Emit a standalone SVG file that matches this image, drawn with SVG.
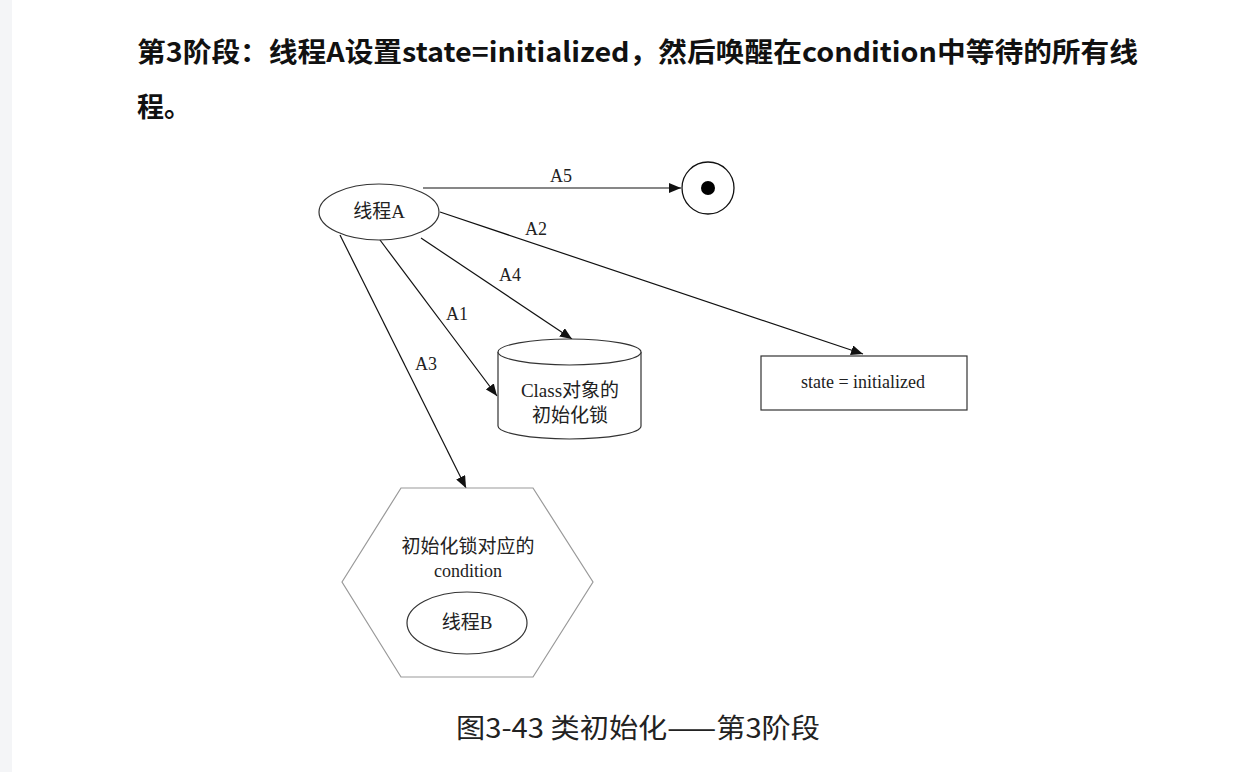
<svg xmlns="http://www.w3.org/2000/svg" width="1238" height="772" viewBox="0 0 1238 772">
<style>
.title{font-family:"Noto Sans CJK SC","Noto Sans",sans-serif;font-weight:bold;font-size:27px;fill:#111}
.cap{font-family:"Noto Sans CJK SC","Noto Sans",sans-serif;font-size:27px;fill:#222}
.lbl{font-family:"Liberation Serif","Noto Sans CJK SC",serif;font-size:18px;fill:#222}
.cjk{font-size:19px}
.node{fill:#fff;stroke:#333;stroke-width:1.2}
.edge{stroke:#111;stroke-width:1.2;fill:none}
</style>
<defs>
<marker id="arr" viewBox="0 0 12 10" refX="12" refY="5" markerWidth="12" markerHeight="10" markerUnits="userSpaceOnUse" orient="auto">
<path d="M0,0 L12,5 L0,10 z" fill="#111"/>
</marker>
</defs>
<rect width="1238" height="772" fill="#fff"/>
<rect width="12" height="772" fill="#f4f5f7"/>
<text class="title" x="137" y="62" textLength="1001" lengthAdjust="spacingAndGlyphs">第3阶段：线程A设置state=initialized，然后唤醒在condition中等待的所有线</text>
<text class="title" x="137" y="117">程。</text>

<g id="connectors">
<line class="edge" x1="423" y1="188" x2="681" y2="188" marker-end="url(#arr)"/>
<line class="edge" x1="440" y1="212" x2="863" y2="354" marker-end="url(#arr)"/>
<line class="edge" x1="421" y1="238" x2="572" y2="339" marker-end="url(#arr)"/>
<line class="edge" x1="380" y1="240" x2="497" y2="396" marker-end="url(#arr)"/>
<line class="edge" x1="340" y1="235" x2="466" y2="488" marker-end="url(#arr)"/>
<text class="lbl" x="561" y="182" text-anchor="middle">A5</text>
<text class="lbl" x="536" y="235" text-anchor="middle">A2</text>
<text class="lbl" x="510" y="281" text-anchor="middle">A4</text>
<text class="lbl" x="457" y="320" text-anchor="middle">A1</text>
<text class="lbl" x="426" y="370" text-anchor="middle">A3</text>
</g>

<g id="threadA">
<ellipse class="node" cx="379" cy="212" rx="60" ry="28" stroke="#555"/>
<text class="lbl cjk" x="379" y="218" text-anchor="middle">线程A</text>
</g>

<g id="final">
<circle cx="708" cy="188" r="26" fill="#fff" stroke="#111" stroke-width="1.3"/>
<circle cx="708" cy="188" r="7" fill="#000"/>
</g>

<g id="state">
<rect class="node" x="761" y="356" width="206" height="54" stroke="#555"/>
<text class="lbl" x="863" y="388" text-anchor="middle">state = initialized</text>
</g>

<g id="lock">
<path class="node" d="M498,352 L498,426 A71.5,13 0 0 0 641,426 L641,352" stroke="#333"/>
<ellipse class="node" cx="569.5" cy="352" rx="71.5" ry="13"/>
<text class="lbl cjk" x="570" y="397" text-anchor="middle">Class对象的</text>
<text class="lbl cjk" x="570" y="422" text-anchor="middle">初始化锁</text>
</g>

<g id="condition">
<polygon points="342,582 401,488 533,488 593,582 533,677 401,677" fill="#fff" stroke="#999" stroke-width="1.2"/>
<text class="lbl cjk" x="468" y="553" text-anchor="middle">初始化锁对应的</text>
<text class="lbl" x="468" y="577" text-anchor="middle">condition</text>
<g id="threadB">
<ellipse class="node" cx="467" cy="623" rx="60" ry="31" stroke="#444"/>
<text class="lbl cjk" x="467" y="629" text-anchor="middle">线程B</text>
</g>
</g>

<text class="cap" x="456" y="738" textLength="364" lengthAdjust="spacingAndGlyphs">图3-43 类初始化——第3阶段</text>
</svg>
